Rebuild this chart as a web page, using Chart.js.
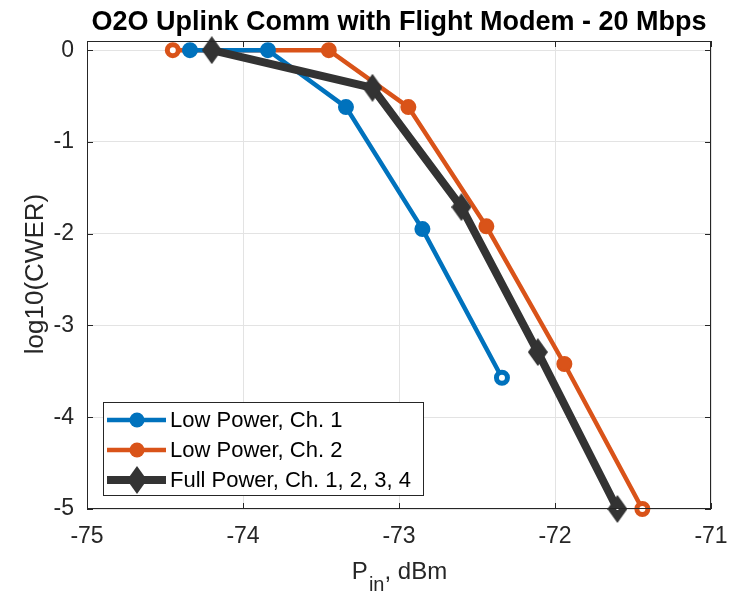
<!DOCTYPE html>
<html>
<head>
<meta charset="utf-8">
<script src="https://cdn.jsdelivr.net/npm/chart.js@4.4.0/dist/chart.umd.min.js"></script>
<style>
  html,body{margin:0;padding:0;background:#fff}
  #wrap{width:731px;height:595px;position:relative}
</style>
</head>
<body>
<div id="wrap"><canvas id="c" width="731" height="595"></canvas></div>
<script>
/* O2O uplink CWER vs input power */

var TITLE = 'O2O Uplink Comm with Flight Modem - 20 Mbps';
var X_TICKS = [-75, -74, -73, -72, -71];
var Y_TICKS = [-5, -4, -3, -2, -1, 0];

var lp1X = [-74.34, -73.84, -73.34, -72.85, -72.34];
var lp1Y = [0, 0, -0.62, -1.95, -3.57];

var lp2X = [-74.45, -73.45, -72.94, -72.44, -71.94, -71.44];
var lp2Y = [0, 0, -0.62, -1.92, -3.42, -5.0];

var fpX = [-74.20, -73.17, -72.60, -72.11, -71.60];
var fpY = [0, -0.41, -1.71, -3.29, -5.0];

var C_BLUE = '#0072BD', C_ORANGE = '#D95319', C_DARK = '#333333', C_AX = '#262626';
var FONT = '"Liberation Sans", Arial, sans-serif';

function pts(xs, ys){ return xs.map(function(x,i){ return {x:x, y:ys[i]}; }); }

// open markers where a run hit its limit
function openAt(n, idx, open, shut){
  var a = []; for(var i=0;i<n;i++) a.push(idx.indexOf(i)!==-1 ? open : shut); return a;
}

// tall diamond marker (canvas used as pointStyle)
function diamond(dot){
  var c = document.createElement('canvas'); c.width = 20; c.height = 28;
  var g = c.getContext('2d');
  g.fillStyle = C_DARK;
  g.beginPath(); g.moveTo(10,0); g.lineTo(20,14); g.lineTo(10,28); g.lineTo(0,14); g.closePath(); g.fill();
  if(dot){ g.fillStyle = '#fff'; g.fillRect(9,13,2,2); }
  return c;
}
var DIA = diamond(false), DIA_DOT = diamond(true);

var LEGEND = [
  {label:'Low Power, Ch. 1', color:C_BLUE, width:4.5},
  {label:'Low Power, Ch. 2', color:C_ORANGE, width:4.5},
  {label:'Full Power, Ch. 1, 2, 3, 4', color:C_DARK, width:8, img:DIA}
];

var decor = {
  id:'decor',
  afterDraw:function(ch){
    var ctx = ch.ctx, a = ch.chartArea, xs = ch.scales.x, ys = ch.scales.y;
    ctx.save();
    // box + inward ticks
    ctx.strokeStyle = C_AX; ctx.lineWidth = 1;
    ctx.strokeRect(a.left+0.5, a.top+0.5, a.right-a.left-1, a.bottom-a.top-1);
    ctx.beginPath();
    X_TICKS.forEach(function(v){
      var px = Math.round(xs.getPixelForValue(v))+0.5;
      ctx.moveTo(px, a.bottom); ctx.lineTo(px, a.bottom-6);
      ctx.moveTo(px, a.top); ctx.lineTo(px, a.top+6);
    });
    Y_TICKS.forEach(function(v){
      var py = Math.round(ys.getPixelForValue(v))+0.5;
      ctx.moveTo(a.left, py); ctx.lineTo(a.left+6, py);
      ctx.moveTo(a.right, py); ctx.lineTo(a.right-6, py);
    });
    ctx.stroke();

    // title
    ctx.fillStyle = '#000';
    ctx.font = 'bold 27px ' + FONT;
    ctx.textAlign = 'center'; ctx.textBaseline = 'alphabetic';
    ctx.fillText(TITLE, (a.left+a.right)/2, 30);

    // x label with subscript
    ctx.fillStyle = C_AX;
    var big = '24px ' + FONT, small = '20px ' + FONT;
    ctx.textAlign = 'left';
    ctx.font = big; var wP = ctx.measureText('P').width, wR = ctx.measureText(', dBm').width;
    ctx.font = small; var wS = ctx.measureText('in').width;
    var x0 = (a.left+a.right)/2 - (wP+wS+wR)/2, base = 579;
    ctx.font = big; ctx.fillText('P', x0, base);
    ctx.font = small; ctx.fillText('in', x0+wP+1, base+12);
    ctx.font = big; ctx.fillText(', dBm', x0+wP+wS+1, base);

    // y label
    ctx.save();
    ctx.translate(36, 274);
    ctx.rotate(-Math.PI/2);
    ctx.textAlign = 'center'; ctx.textBaseline = 'middle';
    ctx.font = '26px ' + FONT;
    ctx.fillText('log10(CWER)', 0, 0);
    ctx.restore();

    // legend
    var lx = 103, ly = 402, lw = 320, lh = 93;
    ctx.fillStyle = '#fff'; ctx.fillRect(lx, ly, lw, lh);
    ctx.strokeStyle = C_AX; ctx.lineWidth = 1;
    ctx.strokeRect(lx+0.5, ly+0.5, lw, lh);
    LEGEND.forEach(function(e, i){
      var cy = 420 + i*30;
      ctx.strokeStyle = e.color; ctx.lineWidth = e.width; ctx.lineCap = 'butt';
      ctx.beginPath(); ctx.moveTo(107, cy); ctx.lineTo(166, cy); ctx.stroke();
      if(e.img){
        ctx.drawImage(e.img, 137 - e.img.width/2, cy - e.img.height/2);
      } else {
        ctx.fillStyle = e.color;
        ctx.beginPath(); ctx.arc(137, cy, 7.5, 0, Math.PI*2); ctx.fill();
      }
      ctx.fillStyle = '#000'; ctx.font = '22px ' + FONT;
      ctx.textAlign = 'left'; ctx.textBaseline = 'middle';
      ctx.fillText(e.label, 170, cy+1);
    });
    ctx.restore();
  }
};

new Chart(document.getElementById('c'), {
  type:'line',
  data:{ datasets:[
    { label:'Full Power, Ch. 1, 2, 3, 4', data:pts(fpX, fpY), clip:false,
      borderColor:C_DARK, backgroundColor:C_DARK, borderWidth:8,
      pointStyle:[DIA, DIA, DIA, DIA, DIA_DOT], pointRadius:10, order:1 },
    { label:'Low Power, Ch. 2', data:pts(lp2X, lp2Y), clip:false,
      borderColor:C_ORANGE, backgroundColor:C_ORANGE, borderWidth:4.5,
      pointStyle:'circle',
      pointRadius:openAt(lp2X.length, [0,5], 5.5, 7),
      pointBorderWidth:openAt(lp2X.length, [0,5], 5, 2),
      pointBorderColor:C_ORANGE,
      pointBackgroundColor:openAt(lp2X.length, [0,5], '#fff', C_ORANGE), order:3 },
    { label:'Low Power, Ch. 1', data:pts(lp1X, lp1Y), clip:false,
      borderColor:C_BLUE, backgroundColor:C_BLUE, borderWidth:4.5,
      pointStyle:'circle',
      pointRadius:openAt(lp1X.length, [4], 5.5, 7),
      pointBorderWidth:openAt(lp1X.length, [4], 5, 2),
      pointBorderColor:C_BLUE,
      pointBackgroundColor:openAt(lp1X.length, [4], '#fff', C_BLUE), order:2 }
  ]},
  options:{
    responsive:false, animation:false,
    layout:{ padding:{ left:0, right:20, top:41, bottom:0 } },
    plugins:{ legend:{display:false}, tooltip:{enabled:false} },
    elements:{ line:{ tension:0 } },
    scales:{
      x:{ type:'linear', min:-75, max:-71,
        afterBuildTicks:function(s){ s.ticks = X_TICKS.map(function(v){ return {value:v}; }); },
        afterFit:function(s){ s.height = 86; s.paddingLeft = 0; s.paddingRight = 0; },
        grid:{ color:'#e3e3e3', drawTicks:false },
        border:{ display:false },
        ticks:{ color:C_AX, font:{family:FONT, size:23}, padding:14, maxRotation:0 } },
      y:{ type:'linear', min:-5, max:0.1,
        afterBuildTicks:function(s){ s.ticks = Y_TICKS.map(function(v){ return {value:v}; }); },
        afterFit:function(s){ s.width = 87; s.paddingTop = 0; s.paddingBottom = 0; },
        grid:{ color:'#e3e3e3', drawTicks:false },
        border:{ display:false },
        ticks:{ color:C_AX, font:{family:FONT, size:23}, padding:13 } }
    }
  },
  plugins:[decor]
});
</script>
</body>
</html>
